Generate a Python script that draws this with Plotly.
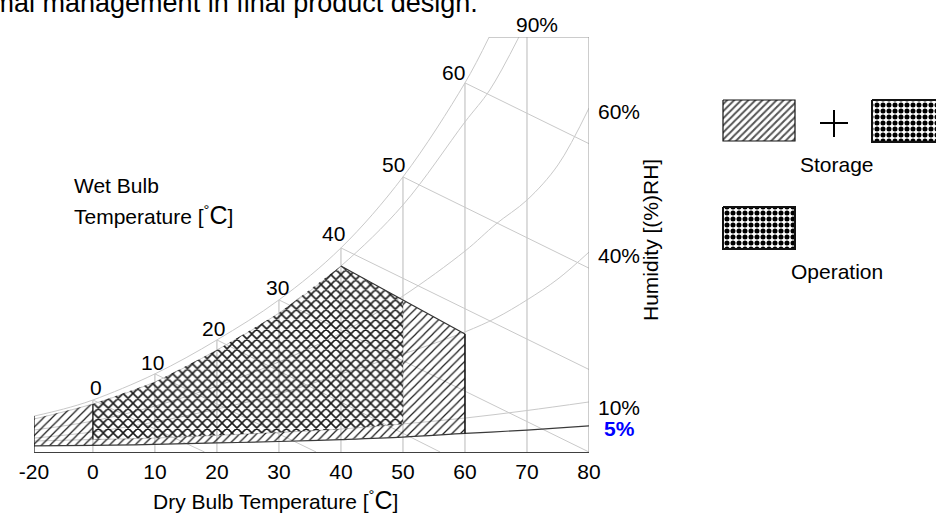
import plotly.graph_objects as go

FIG_W, FIG_H = 936, 514

# ---------------- data ----------------
DRY_BULB_TICKS = [-20, 0, 10, 20, 30, 40, 50, 60, 70, 80]
DRY_BULB_LABELS = ["-20", "0", "10", "20", "30", "40", "50", "60", "70", "80"]

# humidity-ratio scale (arbitrary chart units, 0..170)
SAT_T = [-20, -10, 0, 10, 20, 30, 40, 50, 60, 63.9]
SAT_W = [14.7, 17.6, 21.3, 32.0, 45.9, 62.3, 83.6, 112.7, 151.2, 170.0]

RH90_T = [-20, 0, 10, 20, 30, 40, 50, 60, 64, 68.7]
RH90_W = [13.5, 19.7, 28.7, 41.8, 56.9, 76.2, 101.2, 135.2, 148.3, 170.0]

RH60_T = [-20, 0, 10, 20, 30, 40, 50, 60, 65, 70, 75, 80]
RH60_W = [9.0, 12.7, 18.8, 27.0, 36.9, 48.7, 63.9, 82.3, 93.4, 103.2, 117.6, 140.9]

RH40_T = [-20, 0, 10, 20, 30, 40, 50, 60, 65, 70, 75, 80]
RH40_W = [5.7, 8.2, 12.3, 17.6, 23.8, 32.0, 40.1, 49.2, 54.9, 62.3, 70.9, 81.9]

RH10_T = [-20, 0, 10, 20, 30, 40, 50, 60, 70, 80]
RH10_W = [4.5, 5.1, 5.7, 6.8, 8.0, 9.4, 11.5, 13.9, 17.0, 20.5]

RH5_T = [-20, 0, 10, 20, 30, 40, 50, 60, 70, 80]
RH5_W = [2.5, 2.7, 3.1, 3.7, 4.3, 5.1, 6.1, 7.6, 9.0, 10.7]

WET_BULB_T = [0, 10, 20, 30, 40, 50, 60]
WET_BULB_START_W = [21.3, 32.0, 45.9, 62.3, 83.6, 112.7, 151.2]
WET_BULB_END_T = [18, 36, 56, 80, 80, 80, 80]
WET_BULB_END_W = [0, 0, 0, 0, 33.8, 75.3, 126.3]

GRID_T = [0, 10, 20, 30, 40, 50, 60, 70]
GRID_TOP_W = [21.3, 32.0, 45.9, 62.3, 83.6, 112.7, 151.2, 170.0]

# envelope corners
STORAGE_LIMIT_T = [40, 60]
STORAGE_LIMIT_W = [76.2, 48.3]
OPERATION_CORNER_T = 50
OPERATION_CORNER_W = 62.3

W_MAX = 170.0
T_MAX = 80

RH_LABELS = ["90%", "60%", "40%", "10%", "5%"]
WB_LABELS = ["0", "10", "20", "30", "40", "50", "60"]

# ---------------- helpers ----------------
NEG_SCALE = 0.475  # the chart compresses the sub-zero range


def xpos(t):
    return t * NEG_SCALE if t < 0 else t


def xs(ts):
    return [xpos(t) for t in ts]


def px(x, y):
    return x / FIG_W, 1 - y / FIG_H


FONT = "Liberation Sans, Arial, sans-serif"
LIGHT = "#c9c9c9"
GRID = "#b9b9b9"

fig = go.Figure()


def line(t, w, color, width=1, shape="linear", dash=None):
    fig.add_trace(go.Scatter(x=xs(t), y=w, mode="lines",
                             line=dict(color=color, width=width, shape=shape, dash=dash),
                             hoverinfo="skip", showlegend=False))


# vertical dry-bulb lines
for t, top in zip(GRID_T, GRID_TOP_W):
    line([t, t], [0, top], GRID, 1)

# wet-bulb lines
for t0, w0, t1, w1 in zip(WET_BULB_T, WET_BULB_START_W, WET_BULB_END_T, WET_BULB_END_W):
    line([t0, t1], [w0, w1], LIGHT, 1)

# RH curves
line(SAT_T, SAT_W, LIGHT, 1, "spline")
line(RH90_T, RH90_W, LIGHT, 1, "spline")
line(RH60_T, RH60_W, LIGHT, 1, "spline")
line(RH40_T, RH40_W, LIGHT, 1, "spline")
line(RH10_T, RH10_W, LIGHT, 1, "spline")

# frame: right border and top line
line([T_MAX, T_MAX], [0, W_MAX], "#9a9a9a", 1)
line([SAT_T[-1], T_MAX], [W_MAX, W_MAX], "#9a9a9a", 1)

# ---------------- envelopes ----------------
# storage-only part (storage envelope minus operation envelope)
st_t, st_w = [], []
for t, w in zip(RH90_T, RH90_W):
    if t <= 0:
        st_t.append(t); st_w.append(w)
for t, w in zip(RH10_T, RH10_W):
    if 0 <= t <= OPERATION_CORNER_T:
        st_t.append(t); st_w.append(w)
st_t += [OPERATION_CORNER_T, STORAGE_LIMIT_T[1]]
st_w += [OPERATION_CORNER_W, STORAGE_LIMIT_W[1]]
for t, w in reversed(list(zip(RH5_T, RH5_W))):
    if t <= STORAGE_LIMIT_T[1]:
        st_t.append(t); st_w.append(w)
st_t.append(st_t[0]); st_w.append(st_w[0])

fig.add_trace(go.Scatter(
    x=xs(st_t), y=st_w, mode="lines", fill="toself", line=dict(width=0),
    fillcolor="rgba(0,0,0,0)",
    fillpattern=dict(shape="/", fgcolor="#1a1a1a", bgcolor="rgba(0,0,0,0)", size=6, solidity=0.2),
    hoverinfo="skip", showlegend=False))

# operation envelope
op_t, op_w = [], []
for t, w in zip(RH90_T, RH90_W):
    if 0 <= t <= STORAGE_LIMIT_T[0]:
        op_t.append(t); op_w.append(w)
op_t += [OPERATION_CORNER_T, OPERATION_CORNER_T]
op_w += [OPERATION_CORNER_W, RH10_W[RH10_T.index(OPERATION_CORNER_T)]]
for t, w in reversed(list(zip(RH10_T, RH10_W))):
    if 0 <= t < OPERATION_CORNER_T:
        op_t.append(t); op_w.append(w)
op_t.append(op_t[0]); op_w.append(op_w[0])

fig.add_trace(go.Scatter(
    x=xs(op_t), y=op_w, mode="lines", fill="toself", line=dict(width=0),
    fillcolor="rgba(0,0,0,0)",
    fillpattern=dict(shape="x", fgcolor="#1a1a1a", bgcolor="rgba(0,0,0,0)", size=7, solidity=0.4),
    hoverinfo="skip", showlegend=False))

# dark outlines
line(RH5_T, RH5_W, "#3a3a3a", 1.2, "spline")
line([-20, -20], [0, SAT_W[0]], "#111", 1.2)
line([0, 0], [RH10_W[1], RH90_W[1]], "#111", 1.2)
line(STORAGE_LIMIT_T, STORAGE_LIMIT_W, "#333", 1.2)
line([STORAGE_LIMIT_T[1], STORAGE_LIMIT_T[1]], [RH5_W[RH5_T.index(60)], STORAGE_LIMIT_W[1]], "#111", 1.5)

# ---------------- legend swatches (own pixel-space axes) ----------------
def box(x0, x1, y0, y1, pattern, border_w):
    fig.add_trace(go.Scatter(
        x=[x0, x1, x1, x0, x0], y=[y0, y0, y1, y1, y0], mode="lines", fill="toself",
        xaxis="x2", yaxis="y2", line=dict(color="#111", width=border_w),
        fillcolor="white", fillpattern=pattern, hoverinfo="skip", showlegend=False))


HATCH = dict(shape="/", fgcolor="#555", bgcolor="white", size=5, solidity=0.4)
CHECK = dict(shape=".", fgcolor="#000", bgcolor="white", size=6, solidity=0.55)
box(723, 795, 100, 141, HATCH, 1.2)
box(872, 945, 100, 142, CHECK, 2)
box(723, 795, 207, 249, CHECK, 2)
fig.add_trace(go.Scatter(x=[820, 848, None, 834, 834], y=[123, 123, None, 110, 137],
                         mode="lines", xaxis="x2", yaxis="y2",
                         line=dict(color="#000", width=2), hoverinfo="skip", showlegend=False))

# ---------------- text ----------------
ann = []


def text(s, x, y, size=21, xanchor="center", color="#000", angle=0):
    xp, yp = px(x, y)
    ann.append(dict(text=s, x=xp, y=yp, xref="paper", yref="paper", showarrow=False,
                    xanchor=xanchor, yanchor="middle", textangle=angle,
                    font=dict(family=FONT, size=size, color=color)))


text("thermal management in final product design.", -57, 3, size=27, xanchor="left")

for s, (x, y) in zip(WB_LABELS, [(96, 387), (152, 362), (213, 328), (277, 287),
                                  (333, 234), (393, 165), (453, 73)]):
    text(s, x, y)

for s, (x, y) in zip(RH_LABELS[:4], [(537, 24), (619, 111), (619, 255), (619, 407)]):
    text(s, x, y)
text("<b>5%</b>", 619, 428, color="#0000ff")

text("Wet Bulb", 72, 185, xanchor="left")
text("Temperature [<sup>°</sup><span style='font-size:25px'>C</span>]", 72, 215, xanchor="left")
text("Dry Bulb Temperature [<sup>°</sup><span style='font-size:25px'>C</span>]", 151, 500,
     xanchor="left")
text("Humidity [(%)RH]", 650, 240, angle=-90)
text("Storage", 837, 165)
text("Operation", 837, 271)

fig.update_layout(
    width=FIG_W, height=FIG_H, template="none",
    margin=dict(l=0, r=0, t=0, b=0),
    paper_bgcolor="white", plot_bgcolor="rgba(0,0,0,0)",
    showlegend=False, annotations=ann,
    xaxis=dict(domain=[34 / FIG_W, 589 / FIG_W], range=[xpos(-20), T_MAX],
               tickvals=xs(DRY_BULB_TICKS), ticktext=DRY_BULB_LABELS,
               showgrid=False, zeroline=False, showline=True, linecolor="#404040",
               linewidth=1.2, ticks="", ticklabelstandoff=1, automargin=False,
               tickfont=dict(family=FONT, size=21, color="#000"), fixedrange=True),
    yaxis=dict(domain=[62 / FIG_H, 477 / FIG_H], range=[0, W_MAX], visible=False,
               automargin=False, fixedrange=True),
    xaxis2=dict(domain=[700 / FIG_W, 1], range=[700, 936], visible=False, anchor="y2",
                fixedrange=True),
    yaxis2=dict(domain=[1 - 300 / FIG_H, 1], range=[300, 0], visible=False, anchor="x2",
                fixedrange=True),
)

fig.write_html("out.html", config={"displayModeBar": False},
               post_script="document.body.style.margin='0px';")
